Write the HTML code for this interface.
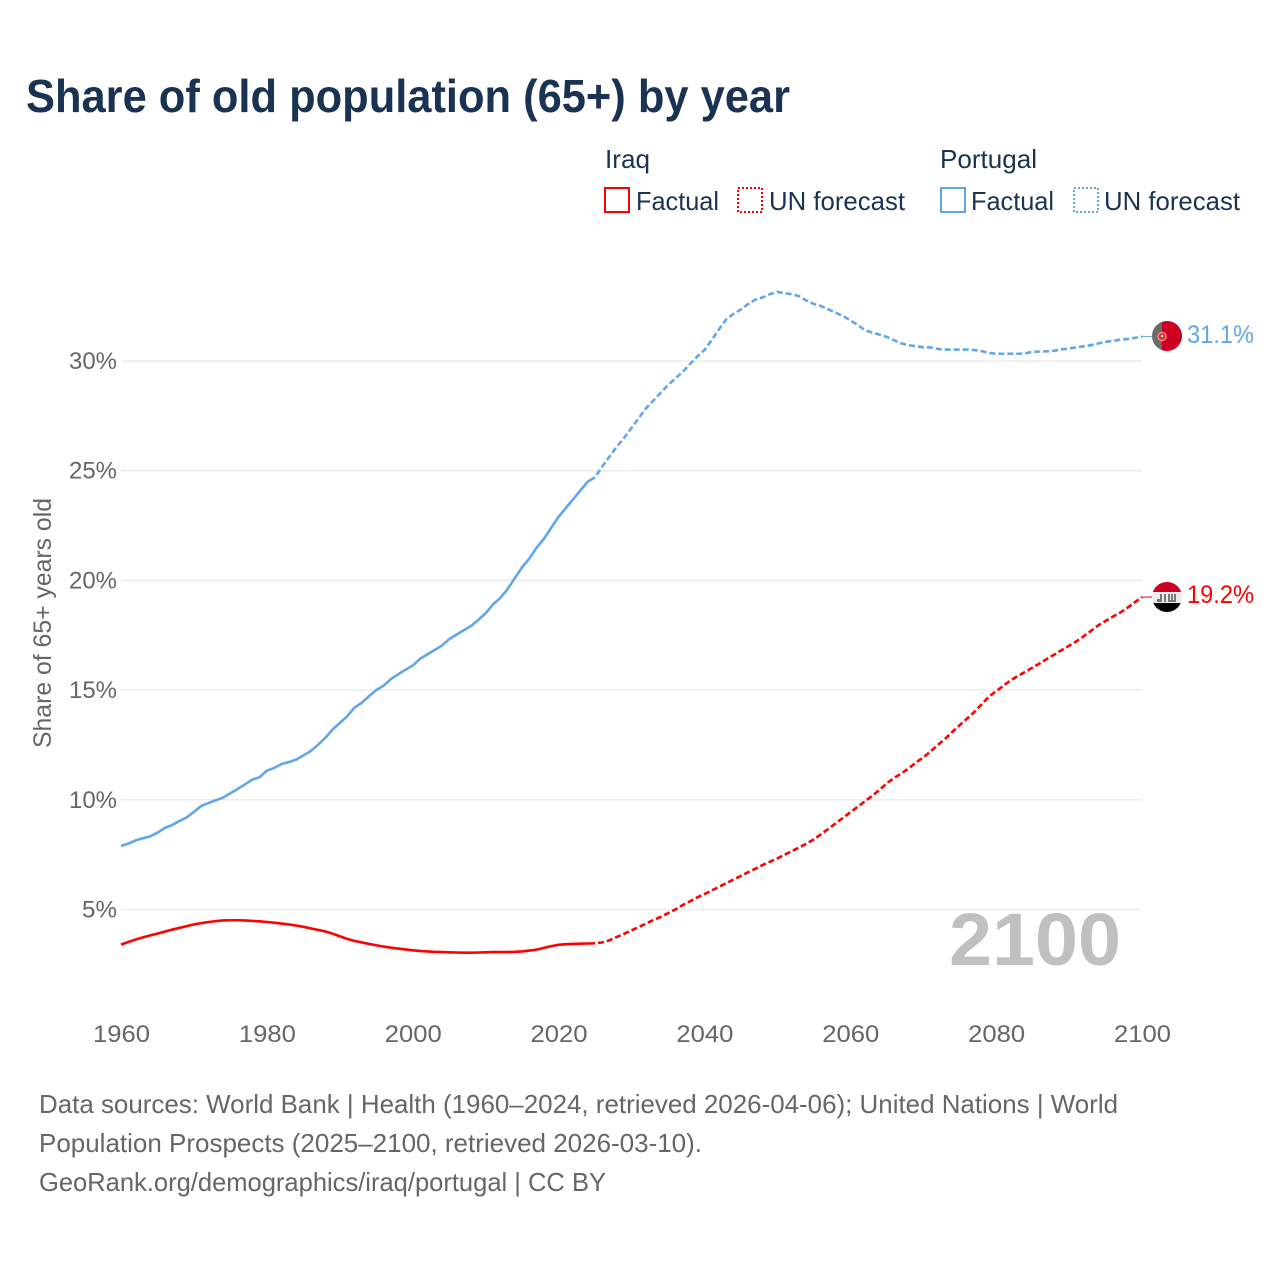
<!DOCTYPE html>
<html lang="en">
<head>
<meta charset="utf-8">
<title>Share of old population (65+) by year</title>
<style>
html,body{margin:0;padding:0;background:#fff;}
svg{display:block;}
text{font-family:"Liberation Sans",sans-serif;}
</style>
</head>
<body>
<svg id="chart" xmlns="http://www.w3.org/2000/svg" width="1280" height="1280" viewBox="0 0 1280 1280">
  <defs>
    <clipPath id="clip-pt"><circle cx="1167" cy="336" r="15"/></clipPath>
    <clipPath id="clip-iq"><circle cx="1167" cy="597" r="15"/></clipPath>
  </defs>
  <rect x="0" y="0" width="1280" height="1280" fill="#fff"/>
  <text x="26" y="112" font-size="46.5" font-weight="700" fill="#1a3352" textLength="764" lengthAdjust="spacingAndGlyphs">Share of old population (65+) by year</text>

  <g font-size="26" fill="#1a3352">
    <text x="605" y="168" textLength="45" lengthAdjust="spacingAndGlyphs">Iraq</text>
    <rect x="605" y="188" width="24" height="24" fill="none" stroke="#ff0000" stroke-width="2"/>
    <text x="636" y="210" textLength="83" lengthAdjust="spacingAndGlyphs">Factual</text>
    <rect x="738" y="188" width="24" height="24" fill="none" stroke="#ff0000" stroke-width="2" stroke-dasharray="2 2"/>
    <text x="769" y="210" textLength="136" lengthAdjust="spacingAndGlyphs">UN forecast</text>
    <text x="940" y="168" textLength="97" lengthAdjust="spacingAndGlyphs">Portugal</text>
    <rect x="941" y="188" width="24" height="24" fill="none" stroke="#63a6e8" stroke-width="2"/>
    <text x="971" y="210" textLength="83" lengthAdjust="spacingAndGlyphs">Factual</text>
    <rect x="1074" y="188" width="24" height="24" fill="none" stroke="#63a6e8" stroke-width="2" stroke-dasharray="2 2"/>
    <text x="1104" y="210" textLength="136" lengthAdjust="spacingAndGlyphs">UN forecast</text>
  </g>

  <text transform="translate(51,748) rotate(-90)" x="0" y="0" font-size="25" fill="#666" textLength="250" lengthAdjust="spacingAndGlyphs">Share of 65+ years old</text>

  <g id="grid"></g>
  <g id="ytick-labels"></g>
  <g id="xtick-labels"></g>

  <text id="year-label" x="949" y="965" font-size="74" font-weight="700" fill="#c0c0c0" textLength="172" lengthAdjust="spacingAndGlyphs">2100</text>

  <g id="series"></g>

  <g id="flag-pt" clip-path="url(#clip-pt)">
    <rect x="1152" y="321" width="10" height="30" fill="#6b6b6b"/>
    <rect x="1162" y="321" width="20" height="30" fill="#cc0022"/>
    <circle cx="1162" cy="336.5" r="4" fill="#c33" stroke="#ff7a7a" stroke-width="1.6"/>
    <rect x="1161" y="335" width="2" height="2" fill="#fff"/>
  </g>
  <g id="flag-iq" clip-path="url(#clip-iq)">
    <rect x="1152" y="582" width="30" height="10" fill="#cc0022"/>
    <rect x="1152" y="592" width="30" height="11" fill="#ececec"/>
    <rect x="1152" y="603" width="30" height="9" fill="#000"/>
    <path d="M1157 602v-3h3v-5h2v8zM1164 602v-8h2v8zM1168 602v-8h2v6h1v-6h2v6h1v-6h2v8z" fill="#777"/>
  </g>
  <text id="label-pt" x="1187" y="343" font-size="25" fill="#63a6e8" textLength="67" lengthAdjust="spacingAndGlyphs"></text>
  <text id="label-iq" x="1187" y="603" font-size="25" fill="#ff0000" textLength="67" lengthAdjust="spacingAndGlyphs"></text>

  <g font-size="26" fill="#666">
    <text x="39" y="1113" textLength="1079" lengthAdjust="spacingAndGlyphs">Data sources: World Bank | Health (1960–2024, retrieved 2026-04-06); United Nations | World</text>
    <text x="39" y="1152" textLength="663" lengthAdjust="spacingAndGlyphs">Population Prospects (2025–2100, retrieved 2026-03-10).</text>
    <text x="39" y="1191" textLength="567" lengthAdjust="spacingAndGlyphs">GeoRank.org/demographics/iraq/portugal | CC BY</text>
  </g>
</svg>
<script>
const yTicks = [5, 10, 15, 20, 25, 30];
const xTicks = [1960, 1980, 2000, 2020, 2040, 2060, 2080, 2100];
const factualStartYear = 1960;
const forecastStartYear = 2025;
const iraqFactual = [3.40,3.52,3.63,3.73,3.82,3.90,3.99,4.08,4.16,4.24,4.32,4.38,4.43,4.47,4.50,4.51,4.51,4.50,4.48,4.46,4.43,4.40,4.36,4.32,4.27,4.21,4.14,4.07,4.00,3.90,3.78,3.66,3.57,3.50,3.43,3.37,3.31,3.26,3.22,3.18,3.14,3.11,3.09,3.07,3.06,3.05,3.04,3.03,3.03,3.04,3.05,3.06,3.06,3.06,3.07,3.09,3.13,3.17,3.25,3.33,3.39,3.42,3.43,3.44,3.45,3.46];
const iraqForecast = [3.46,3.50,3.60,3.75,3.90,4.05,4.20,4.36,4.52,4.66,4.83,5.00,5.20,5.37,5.55,5.70,5.87,6.03,6.20,6.37,6.53,6.70,6.86,7.03,7.18,7.33,7.50,7.66,7.83,8.00,8.20,8.43,8.68,8.93,9.18,9.43,9.68,9.93,10.18,10.45,10.75,11.00,11.20,11.43,11.70,11.93,12.20,12.50,12.78,13.10,13.40,13.70,14.00,14.35,14.70,14.95,15.20,15.45,15.65,15.83,16.03,16.22,16.43,16.62,16.83,17.02,17.22,17.45,17.70,17.95,18.15,18.35,18.53,18.75,19.00,19.24];
const portugalFactual = [7.90,8.00,8.15,8.25,8.33,8.50,8.72,8.85,9.03,9.20,9.45,9.72,9.85,9.98,10.10,10.30,10.50,10.70,10.92,11.03,11.33,11.45,11.63,11.72,11.83,12.02,12.22,12.50,12.82,13.20,13.50,13.80,14.20,14.42,14.72,15.00,15.20,15.50,15.72,15.93,16.12,16.42,16.63,16.83,17.03,17.32,17.53,17.73,17.92,18.20,18.50,18.90,19.20,19.60,20.10,20.60,21.00,21.50,21.90,22.40,22.90,23.30,23.70,24.10,24.50,24.70];
const portugalForecast = [24.70,25.20,25.65,26.10,26.50,26.95,27.40,27.85,28.20,28.55,28.90,29.20,29.50,29.85,30.20,30.50,30.95,31.45,31.90,32.15,32.35,32.60,32.80,32.90,33.05,33.15,33.08,33.05,32.95,32.75,32.60,32.50,32.35,32.20,32.05,31.85,31.65,31.40,31.30,31.20,31.10,30.95,30.80,30.72,30.67,30.63,30.62,30.55,30.52,30.52,30.52,30.52,30.50,30.45,30.37,30.33,30.33,30.33,30.33,30.35,30.42,30.43,30.44,30.47,30.53,30.57,30.62,30.67,30.72,30.80,30.87,30.92,30.97,31.00,31.05,31.12];

const NS = 'http://www.w3.org/2000/svg';
function xScale(year) { return 121 + (year - 1960) * (1142 - 121) / 140; }
function yScale(pct) { return 1019.2 - pct * 21.94; }
function linePoints(values, startYear) {
  return values.map(function (v, i) { return xScale(startYear + i).toFixed(2) + ',' + yScale(v).toFixed(2); }).join(' ');
}

const grid = document.getElementById('grid');
const yLabels = document.getElementById('ytick-labels');
yTicks.forEach(function (t) {
  const line = document.createElementNS(NS, 'line');
  
  
  line.setAttribute('x1', xScale(1960));
  line.setAttribute('x2', xScale(2100));
  line.setAttribute('y1', yScale(t));
  line.setAttribute('y2', yScale(t));
  line.setAttribute('stroke', '#ececec');
  line.setAttribute('stroke-width', '1.5');
  grid.appendChild(line);
  const label = document.createElementNS(NS, 'text');
  
  
  label.setAttribute('x', 117);
  label.setAttribute('y', yScale(t) + 8);
  label.setAttribute('text-anchor', 'end');
  label.setAttribute('font-size', '24.5');
  label.setAttribute('fill', '#666');
  label.setAttribute('textLength', t < 10 ? 35 : 48);
  label.setAttribute('lengthAdjust', 'spacingAndGlyphs');
  label.textContent = t + '%';
  yLabels.appendChild(label);
});

const xLabels = document.getElementById('xtick-labels');
xTicks.forEach(function (t) {
  const label = document.createElementNS(NS, 'text');
  
  
  label.setAttribute('x', xScale(t) + 0.5);
  label.setAttribute('y', 1042);
  label.setAttribute('text-anchor', 'middle');
  label.setAttribute('font-size', '24.5');
  label.setAttribute('fill', '#666');
  label.setAttribute('textLength', 57);
  label.setAttribute('lengthAdjust', 'spacingAndGlyphs');
  label.textContent = t;
  xLabels.appendChild(label);
});

const series = document.getElementById('series');

const ptFactualLine = document.createElementNS(NS, 'polyline');


ptFactualLine.setAttribute('points', linePoints(portugalFactual, factualStartYear));
ptFactualLine.setAttribute('fill', 'none');
ptFactualLine.setAttribute('stroke', '#63a6e8');
ptFactualLine.setAttribute('stroke-width', '2.6');
series.appendChild(ptFactualLine);

const ptForecastLine = document.createElementNS(NS, 'polyline');


ptForecastLine.setAttribute('points', linePoints(portugalForecast, forecastStartYear));
ptForecastLine.setAttribute('fill', 'none');
ptForecastLine.setAttribute('stroke', '#63a6e8');
ptForecastLine.setAttribute('stroke-width', '2.6');
ptForecastLine.setAttribute('stroke-dasharray', '6 3');
ptForecastLine.setAttribute('stroke-dashoffset', '6');
series.appendChild(ptForecastLine);

const iqFactualLine = document.createElementNS(NS, 'polyline');


iqFactualLine.setAttribute('points', linePoints(iraqFactual, factualStartYear));
iqFactualLine.setAttribute('fill', 'none');
iqFactualLine.setAttribute('stroke', '#ff0000');
iqFactualLine.setAttribute('stroke-width', '2.6');
series.appendChild(iqFactualLine);

const iqForecastLine = document.createElementNS(NS, 'polyline');


iqForecastLine.setAttribute('points', linePoints(iraqForecast, forecastStartYear));
iqForecastLine.setAttribute('fill', 'none');
iqForecastLine.setAttribute('stroke', '#ff0000');
iqForecastLine.setAttribute('stroke-width', '2.6');
iqForecastLine.setAttribute('stroke-dasharray', '6 3');
iqForecastLine.setAttribute('stroke-dashoffset', '6');
series.appendChild(iqForecastLine);

const ptLast = portugalForecast[portugalForecast.length - 1];
const iqLast = iraqForecast[iraqForecast.length - 1];

const ptConnector = document.createElementNS(NS, 'line');


ptConnector.setAttribute('x1', xScale(2100));
ptConnector.setAttribute('x2', 1153);
ptConnector.setAttribute('y1', yScale(ptLast));
ptConnector.setAttribute('y2', yScale(ptLast));
ptConnector.setAttribute('stroke', '#63a6e8');
ptConnector.setAttribute('stroke-width', '1');
series.appendChild(ptConnector);

const iqConnector = document.createElementNS(NS, 'line');


iqConnector.setAttribute('x1', xScale(2100));
iqConnector.setAttribute('x2', 1153);
iqConnector.setAttribute('y1', yScale(iqLast));
iqConnector.setAttribute('y2', yScale(iqLast));
iqConnector.setAttribute('stroke', '#ff0000');
iqConnector.setAttribute('stroke-width', '1');
series.appendChild(iqConnector);

document.getElementById('label-pt').textContent = ptLast.toFixed(1) + '%';
document.getElementById('label-iq').textContent = iqLast.toFixed(1) + '%';
</script>
</body>
</html>
